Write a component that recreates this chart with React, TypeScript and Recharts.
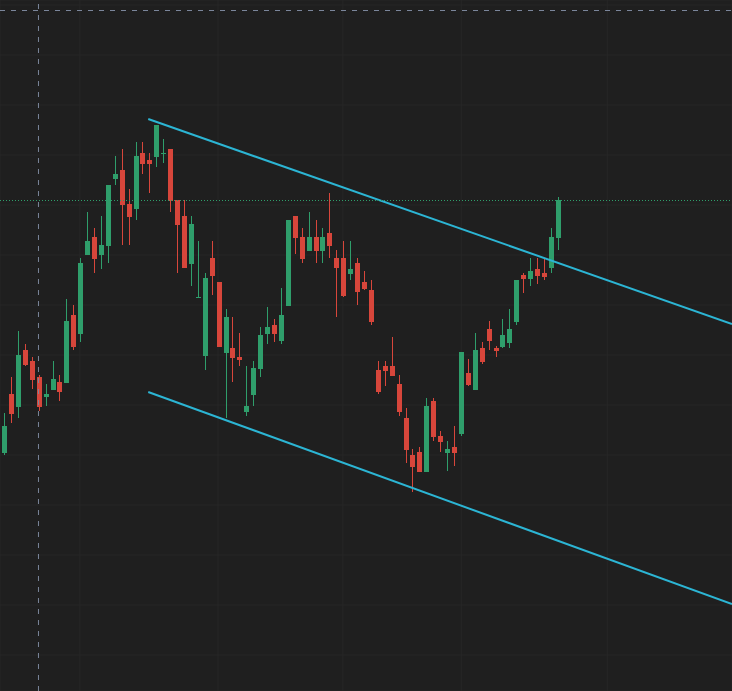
import { ComposedChart, Bar, XAxis, YAxis, CartesianGrid, ReferenceLine } from "recharts";

// price values (arbitrary units, higher = up)
const opens = [238, 297, 284, 341, 330, 314, 294, 301, 309, 308, 376, 357, 436, 454, 436, 445, 512, 521, 487, 482, 538, 531, 534, 537, 542, 491, 475, 427, 393, 335, 433, 409, 338, 343, 334, 279, 296, 322, 357, 366, 350, 385, 475, 454, 440, 454, 440, 458, 433, 433, 417, 428, 409, 401, 321, 325, 325, 307, 273, 236, 239, 219, 290, 255, 238, 244, 257, 318, 301, 343, 362, 343, 344, 348, 369, 416, 412, 422, 418, 423, 453];
const highs = [278, 314, 360, 347, 334, 316, 307, 330, 316, 392, 386, 433, 479, 463, 475, 506, 535, 542, 502, 549, 549, 538, 566, 552, 542, 491, 491, 475, 450, 418, 450, 409, 382, 374, 358, 325, 330, 364, 384, 372, 403, 471, 475, 463, 479, 471, 463, 498, 441, 450, 450, 433, 420, 411, 330, 330, 354, 316, 283, 242, 244, 293, 293, 260, 250, 265, 339, 332, 358, 349, 370, 345, 372, 382, 411, 418, 433, 433, 433, 463, 494];
const lows = [236, 268, 273, 325, 302, 280, 285, 301, 290, 308, 341, 349, 436, 418, 422, 428, 506, 446, 446, 471, 517, 498, 524, 528, 479, 418, 423, 405, 393, 321, 396, 344, 273, 309, 325, 275, 285, 314, 347, 349, 347, 385, 437, 428, 440, 428, 428, 433, 374, 394, 411, 386, 401, 366, 297, 305, 315, 275, 228, 199, 219, 219, 250, 239, 220, 225, 255, 305, 301, 327, 341, 334, 343, 343, 366, 398, 405, 407, 411, 418, 441];
const closes = [265, 277, 336, 326, 311, 284, 297, 312, 299, 370, 344, 428, 450, 432, 446, 506, 517, 486, 474, 535, 527, 527, 566, 538, 490, 466, 423, 467, 394, 413, 415, 344, 374, 333, 331, 285, 323, 356, 364, 357, 376, 471, 453, 432, 454, 440, 454, 445, 423, 395, 422, 399, 402, 369, 299, 320, 315, 279, 241, 224, 219, 285, 254, 249, 242, 238, 339, 306, 341, 329, 350, 340, 356, 362, 411, 412, 420, 415, 414, 454, 491];

// channel lines: [bar index, price] at both ends
const upperTrend = [
  { x: 20.77, y: 572 },
  { x: 105.13, y: 367 },
];
const lowerTrend = [
  { x: 20.77, y: 299 },
  { x: 105.13, y: 87 },
];
const lastPrice = 490.5;
const crossIndex = 4.91;
const crossPrice = 680.5;

// faint grid: month boundaries (bar index) and price levels
const monthTicks = [10.9, 30.85, 48.9, 66, 87.1];
const priceLevels = [36, 86, 136, 186, 236, 286, 336, 386, 436, 486, 536, 586, 636, 686];

const UP = "#2f9e6b";
const DOWN = "#d7463b";
const BG = "#1f1f1f";
const CROSS = "#7b869b";

const data = opens.map((o, i) => ({
  i,
  open: o,
  high: highs[i],
  low: lows[i],
  close: closes[i],
}));

function Candle(props: any) {
  const { x, y, width, height, payload } = props;
  if (x == null || y == null || !payload) return null;
  const top = Math.min(y, y + height);
  const h = Math.abs(height);
  const { open, high, low, close } = payload;
  const span = high - low || 1;
  const pix = (v: number) => top + ((high - v) / span) * h;
  const color = close >= open ? UP : DOWN;
  const left = Math.round(x);
  const w = Math.round(width);
  const bTop = Math.round(pix(Math.max(open, close)));
  const bBot = Math.round(pix(Math.min(open, close)));
  return (
    <g>
      <rect x={left + Math.floor(w / 2)} y={Math.round(top)} width={1} height={Math.max(1, Math.round(h))} fill={color} />
      <rect x={left} y={bTop} width={w} height={Math.max(1, bBot - bTop)} fill={color} />
    </g>
  );
}

export default function App() {
  return (
    <div style={{ position: "absolute", left: 0, top: 0, width: 732, height: 691, background: BG }}>
      <ComposedChart width={732} height={691} data={data} margin={{ top: 0, right: 0, bottom: 0, left: 0 }}>
        <XAxis xAxisId="c" dataKey="i" type="category" hide padding={{ left: 1.04, right: 170.2 }} />
        <XAxis
          xAxisId="n"
          dataKey="i"
          type="number"
          hide
          domain={[-0.65, 105.13]}
          allowDataOverflow
          ticks={monthTicks}
        />
        <YAxis hide domain={[0, 691]} allowDataOverflow ticks={priceLevels} />
        <CartesianGrid xAxisId="n" stroke="#272727" strokeWidth={1} />
        <Bar
          xAxisId="c"
          dataKey={(d: any) => [d.low, d.high]}
          barSize={5}
          shape={Candle}
          isAnimationActive={false}
        />
        <ReferenceLine xAxisId="n" segment={upperTrend} stroke="#2cb5d4" strokeWidth={2} ifOverflow="visible" />
        <ReferenceLine xAxisId="n" segment={lowerTrend} stroke="#2cb5d4" strokeWidth={2} ifOverflow="visible" />
        <ReferenceLine xAxisId="n" y={lastPrice} stroke={UP} strokeDasharray="1 2" />
        <ReferenceLine xAxisId="n" y={crossPrice} stroke={CROSS} strokeDasharray="5 6" />
        <ReferenceLine xAxisId="n" x={crossIndex} stroke={CROSS} strokeDasharray="5 6" ifOverflow="visible" />
      </ComposedChart>
    </div>
  );
}
